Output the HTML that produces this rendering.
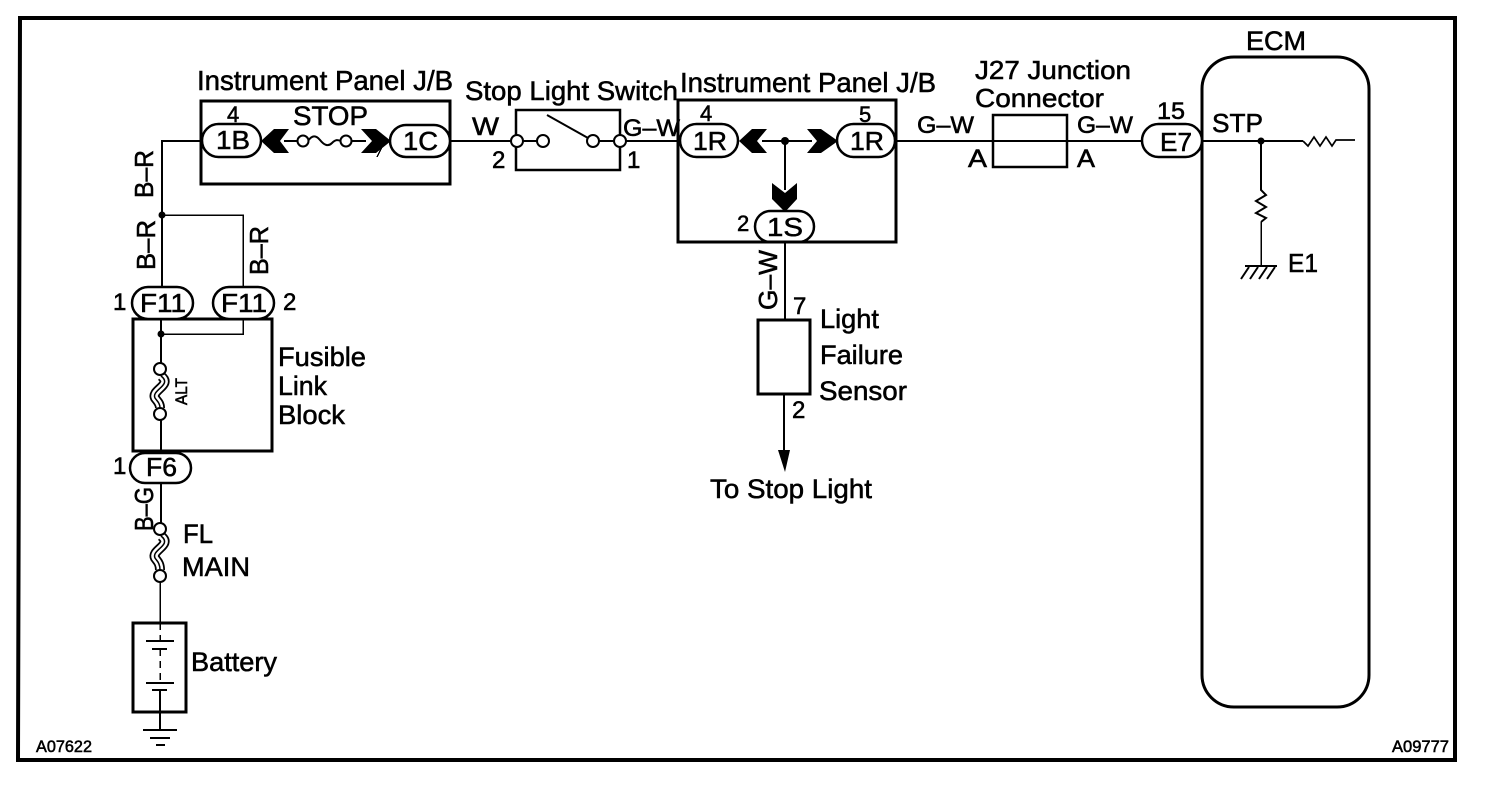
<!DOCTYPE html>
<html>
<head>
<meta charset="utf-8">
<style>
html,body{margin:0;padding:0;background:#fff;width:1504px;height:792px;overflow:hidden}
svg{display:block}
text{font-family:"Liberation Sans",sans-serif;fill:#000;stroke:#000;stroke-width:.55}
.b{fill:none;stroke:#000;stroke-width:3}
.w{fill:none;stroke:#000;stroke-width:2}
.t{fill:none;stroke:#000;stroke-width:1.5;shape-rendering:crispEdges}
.p{fill:#fff;stroke:#000;stroke-width:2.5}
.c{fill:#fff;stroke:#000;stroke-width:2}
.k{fill:#000;stroke:none}
.f1{fill:none;stroke:#000;stroke-width:10}
.f2{fill:none;stroke:#fff;stroke-width:6.5}
.f3{fill:none;stroke:#000;stroke-width:1.5}
</style>
</head>
<body>
<svg width="1504" height="792" viewBox="0 0 1504 792" xmlns="http://www.w3.org/2000/svg">
<rect width="1504" height="792" fill="#fff"/>
<path d="M20 18H1455V760H18Z" fill="none" stroke="#000" stroke-width="4"/>

<!-- left wiring -->
<path class="w" d="M201 141H162V287"/>
<path class="t" d="M162 215H243V287"/>
<circle class="k" cx="162" cy="215" r="3.5"/>
<rect class="b" x="201" y="101" width="249" height="83"/>
<path class="w" d="M284 141H298M352 141H366"/>
<path class="w" d="M308 141c4-6 8-6 12-1s8 7 12 3 6-3 9-2"/>
<circle class="c" cx="303" cy="141" r="5.5"/>
<circle class="c" cx="346" cy="141" r="5.5"/>
<path class="k" d="M261 141L274 129H289L280 141L289 153H274Z"/>
<path class="k" d="M361 129H376L391 141L376 153H361L372 141Z"/>
<path class="t" d="M382 147L377 157"/>
<rect class="p" x="202" y="124" width="59" height="33" rx="16.5"/>
<rect class="p" x="390" y="125" width="60" height="32" rx="16"/>

<!-- fusible block -->
<rect class="b" x="133" y="319" width="139" height="132"/>
<rect class="p" x="132" y="287" width="61" height="32" rx="16"/>
<rect class="p" x="213" y="287" width="61" height="32" rx="16"/>
<path class="w" d="M161 319V363M161 420V453"/>
<path class="t" d="M161 334H243V319"/>
<circle class="k" cx="161" cy="334" r="3.5"/>
<path class="f1" d="M161 376c12 9-10 14-6 22 2 3 5 5 5 10"/>
<path class="f2" d="M161 376c12 9-10 14-6 22 2 3 5 5 5 10"/>
<path class="f3" d="M161 376c12 9-10 14-6 22 2 3 5 5 5 10"/>
<circle class="c" cx="160" cy="369" r="6"/>
<circle class="c" cx="160" cy="414" r="6"/>
<rect class="p" x="130" y="453" width="61" height="30" rx="15"/>

<!-- main fuse and battery -->
<path class="w" d="M161 483V523"/>
<path class="f1" d="M161 536c12 9-10 14-6 22 2 3 5 5 5 12"/>
<path class="f2" d="M161 536c12 9-10 14-6 22 2 3 5 5 5 12"/>
<path class="f3" d="M161 536c12 9-10 14-6 22 2 3 5 5 5 12"/>
<circle class="c" cx="160" cy="529" r="6"/>
<circle class="c" cx="160" cy="576" r="6"/>
<path class="t" d="M160 582V623"/>
<rect class="b" x="133" y="623" width="53" height="89"/>
<path class="w" d="M146 641H174M152 649H167M146 683H174M152 690H167"/>
<path class="t" d="M160 623V641M160 649V683" stroke-dasharray="7 5"/>
<path class="w" d="M160 690V730"/>
<path class="w" d="M143 730H177M150 738H170M156 745H165"/>

<!-- switch -->
<path class="w" d="M450 141H511M626 141H678"/>
<rect class="w" x="516" y="110" width="104" height="60" style="stroke-width:2.5"/>
<path class="w" d="M523 141H537M599 141H614"/>
<path class="w" d="M547 115L588 138"/>
<circle class="c" cx="517" cy="141" r="6"/>
<circle class="c" cx="543" cy="141" r="6"/>
<circle class="c" cx="593" cy="141" r="6"/>
<circle class="c" cx="620" cy="141" r="6"/>

<!-- second J/B -->
<rect class="b" x="678" y="100" width="218" height="142"/>
<path class="w" d="M762 141H812M785 141V190M785 242V320"/>
<circle class="k" cx="785" cy="141" r="4"/>
<path class="k" d="M739 141L752 129H767L757 141L767 153H752Z"/>
<path class="k" d="M807 129H821L838 141L821 153H807L817 141Z"/>
<path class="k" d="M772 183L785 193L797 183V199L785 212L772 199Z"/>
<rect class="p" x="680" y="124" width="58" height="33" rx="16.5"/>
<rect class="p" x="837" y="124" width="58" height="33" rx="16.5"/>
<rect class="p" x="755" y="211" width="59" height="31" rx="15.5"/>
<path class="b" d="M678 242H896"/>

<!-- light failure sensor -->
<rect class="b" x="758" y="320" width="52" height="74"/>
<path class="w" d="M784 394V452"/>
<path class="k" d="M778 450H790L785 472Z"/>

<!-- junction connector and ECM wire -->
<path class="w" d="M896 141H1142"/>
<rect class="b" x="993" y="115" width="74" height="52" style="stroke-width:2.5"/>
<rect class="b" x="1202" y="57" width="167" height="650" rx="32"/>
<rect class="p" x="1142" y="124" width="60" height="33" rx="16.5"/>
<path class="w" d="M1203 141H1303"/>
<path class="w" style="stroke-width:1.7" d="M1303 141L1308 146L1314 137L1320 146L1326 137L1332 146L1336 140H1355"/>
<circle class="k" cx="1261" cy="141" r="3.5"/>
<path class="w" d="M1261 141V190L1266 195L1256 201L1266 207L1256 213L1266 218L1261 222"/>
<path class="t" d="M1261 222V266"/>
<path class="w" d="M1245 266H1277M1249 267L1241 279M1258 267L1250 279M1267 267L1259 279M1275 267L1267 279"/>

<!-- labels -->
<text x="197" y="90" font-size="27.5" textLength="256" lengthAdjust="spacingAndGlyphs">Instrument Panel J/B</text>
<text x="293" y="125" font-size="27" textLength="75" lengthAdjust="spacingAndGlyphs">STOP</text>
<text x="227" y="122" font-size="22">4</text>
<text x="216" y="149" font-size="26" textLength="34" lengthAdjust="spacingAndGlyphs">1B</text>
<text x="403" y="150" font-size="26" textLength="35" lengthAdjust="spacingAndGlyphs">1C</text>
<text x="472" y="135" font-size="25" textLength="27" lengthAdjust="spacingAndGlyphs">W</text>
<text x="492" y="168" font-size="24">2</text>
<text x="465" y="100" font-size="27" textLength="213" lengthAdjust="spacingAndGlyphs">Stop Light Switch</text>
<text x="623" y="136" font-size="24" textLength="57" lengthAdjust="spacingAndGlyphs">G–W</text>
<text x="627" y="168" font-size="24">1</text>
<text x="680" y="92" font-size="27.5" textLength="256" lengthAdjust="spacingAndGlyphs">Instrument Panel J/B</text>
<text x="700" y="121" font-size="22">4</text>
<text x="859" y="122" font-size="22">5</text>
<text x="693" y="150" font-size="26" textLength="34" lengthAdjust="spacingAndGlyphs">1R</text>
<text x="850" y="150" font-size="26" textLength="34" lengthAdjust="spacingAndGlyphs">1R</text>
<text x="737" y="231" font-size="22">2</text>
<text x="767" y="236" font-size="26" textLength="36" lengthAdjust="spacingAndGlyphs">1S</text>

<text transform="rotate(-90 153 198)" x="153" y="198" font-size="26" textLength="48" lengthAdjust="spacingAndGlyphs">B–R</text>
<text transform="rotate(-90 155 270)" x="155" y="270" font-size="26" textLength="50" lengthAdjust="spacingAndGlyphs">B–R</text>
<text transform="rotate(-90 268 275)" x="268" y="275" font-size="26" textLength="49" lengthAdjust="spacingAndGlyphs">B–R</text>
<text x="113" y="310" font-size="24">1</text>
<text x="283" y="310" font-size="24">2</text>
<text x="140" y="312" font-size="26" textLength="46" lengthAdjust="spacingAndGlyphs">F11</text>
<text x="221" y="312" font-size="26" textLength="46" lengthAdjust="spacingAndGlyphs">F11</text>
<text x="278" y="366" font-size="26.5" textLength="88" lengthAdjust="spacingAndGlyphs">Fusible</text>
<text x="278" y="395" font-size="26.5" textLength="49" lengthAdjust="spacingAndGlyphs">Link</text>
<text x="278" y="424" font-size="26.5" textLength="67" lengthAdjust="spacingAndGlyphs">Block</text>
<text transform="rotate(-90 187 405)" x="187" y="405" font-size="17" textLength="27" lengthAdjust="spacingAndGlyphs">ALT</text>
<text x="113" y="474" font-size="24">1</text>
<text x="146" y="476" font-size="26" textLength="31" lengthAdjust="spacingAndGlyphs">F6</text>
<text transform="rotate(-90 153 531)" x="153" y="531" font-size="26" textLength="44" lengthAdjust="spacingAndGlyphs">B–G</text>
<text x="183" y="543" font-size="26.5" textLength="30" lengthAdjust="spacingAndGlyphs">FL</text>
<text x="182" y="576" font-size="26.5" textLength="68" lengthAdjust="spacingAndGlyphs">MAIN</text>
<text x="191" y="671" font-size="26.5" textLength="86" lengthAdjust="spacingAndGlyphs">Battery</text>

<text transform="rotate(-90 777 310)" x="777" y="310" font-size="26" textLength="60" lengthAdjust="spacingAndGlyphs">G–W</text>
<text x="793" y="314" font-size="24">7</text>
<text x="820" y="328" font-size="26.5" textLength="59" lengthAdjust="spacingAndGlyphs">Light</text>
<text x="820" y="364" font-size="26.5" textLength="83" lengthAdjust="spacingAndGlyphs">Failure</text>
<text x="819" y="400" font-size="26.5" textLength="88" lengthAdjust="spacingAndGlyphs">Sensor</text>
<text x="792" y="418" font-size="24">2</text>
<text x="710" y="498" font-size="27" textLength="162" lengthAdjust="spacingAndGlyphs">To Stop Light</text>

<text x="975" y="79" font-size="26" textLength="156" lengthAdjust="spacingAndGlyphs">J27 Junction</text>
<text x="975" y="107" font-size="26" textLength="129" lengthAdjust="spacingAndGlyphs">Connector</text>
<text x="917" y="133" font-size="24" textLength="57" lengthAdjust="spacingAndGlyphs">G–W</text>
<text x="1077" y="133" font-size="24" textLength="56" lengthAdjust="spacingAndGlyphs">G–W</text>
<text x="968" y="167" font-size="25" textLength="19" lengthAdjust="spacingAndGlyphs">A</text>
<text x="1077" y="167" font-size="25" textLength="18" lengthAdjust="spacingAndGlyphs">A</text>
<text x="1157" y="119" font-size="24" textLength="28" lengthAdjust="spacingAndGlyphs">15</text>
<text x="1160" y="151" font-size="26" textLength="32" lengthAdjust="spacingAndGlyphs">E7</text>
<text x="1246" y="50" font-size="27" textLength="60" lengthAdjust="spacingAndGlyphs">ECM</text>
<text x="1212" y="132" font-size="26" textLength="51" lengthAdjust="spacingAndGlyphs">STP</text>
<text x="1288" y="272" font-size="26" textLength="30" lengthAdjust="spacingAndGlyphs">E1</text>

<text x="36" y="752" font-size="17" textLength="56" lengthAdjust="spacingAndGlyphs">A07622</text>
<text x="1392" y="752" font-size="17" textLength="57" lengthAdjust="spacingAndGlyphs">A09777</text>
</svg>
</body>
</html>
